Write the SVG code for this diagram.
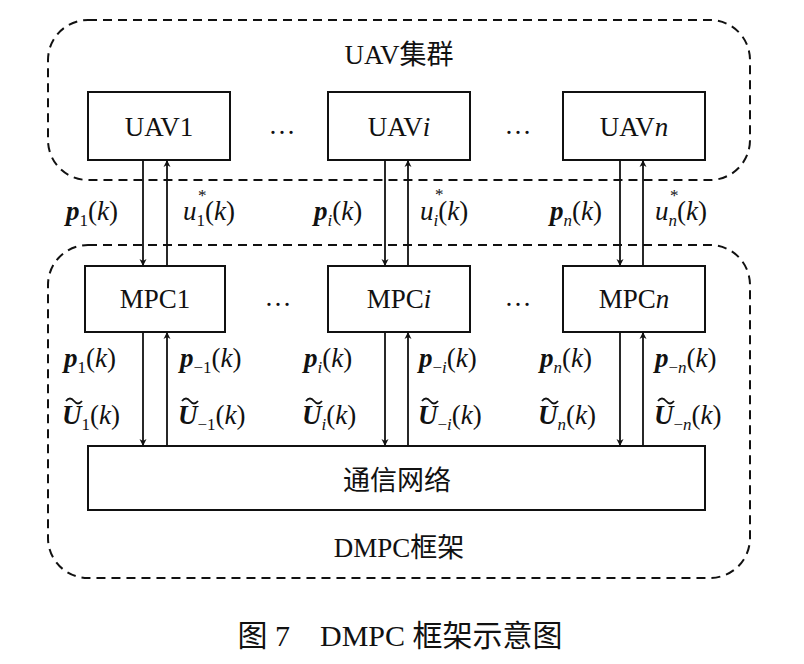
<svg xmlns="http://www.w3.org/2000/svg" width="804" height="664" viewBox="0 0 804 664" font-family="'Liberation Serif', 'DejaVu Serif', serif">
<style>
text{font-family:'Liberation Serif','DejaVu Serif',serif;font-size:27px;fill:#111}
.cjk{font-family:'Liberation Serif','Noto Sans CJK SC',serif}
.c{text-anchor:middle}
.box{fill:none;stroke:#111;stroke-width:2}
.dash{fill:none;stroke:#111;stroke-width:2;stroke-dasharray:9,6}
.ln{stroke:#111;stroke-width:1.8;fill:none}
.b{font-weight:bold;font-style:italic}
.i{font-style:italic}
.s{font-size:17px}
</style>
<defs><marker id="a" viewBox="0 0 10 10" refX="10" refY="5" markerWidth="7" markerHeight="9" orient="auto" markerUnits="userSpaceOnUse"><path d="M0,0L10,5L0,10L3,5z" fill="#111"/></marker></defs>
<rect class="dash" x="48" y="20" width="702" height="160" rx="40"/>
<rect class="dash" x="48" y="245" width="702" height="333" rx="40"/>
<text class="c cjk" x="399" y="64">UAV集群</text>
<text class="c cjk" x="399" y="557">DMPC框架</text>
<g id="uav1"><rect class="box" x="88" y="92" width="142" height="68"/><text class="c" x="159" y="136">UAV1</text></g>
<g id="uavi"><rect class="box" x="328" y="92" width="142" height="68"/><text class="c" x="399" y="136">UAV<tspan class="i">i</tspan></text></g>
<g id="uavn"><rect class="box" x="563" y="92" width="142" height="68"/><text class="c" x="634" y="136">UAV<tspan class="i">n</tspan></text></g>
<text class="c" x="282" y="134">…</text><text class="c" x="518" y="134">…</text>
<g id="mpc1"><rect class="box" x="85" y="266" width="140" height="66"/><text class="c" x="155" y="308">MPC1</text></g>
<g id="mpci"><rect class="box" x="328" y="266" width="142" height="66"/><text class="c" x="399" y="308">MPC<tspan class="i">i</tspan></text></g>
<g id="mpcn"><rect class="box" x="563" y="266" width="142" height="66"/><text class="c" x="634" y="308">MPC<tspan class="i">n</tspan></text></g>
<text class="c" x="278" y="306">…</text><text class="c" x="518" y="306">…</text>
<g id="net"><rect class="box" x="88" y="446" width="617" height="64"/><text class="c cjk" x="397" y="490">通信网络</text></g>
<g id="connectors">
<line class="ln" x1="143" y1="160" x2="143" y2="266" marker-end="url(#a)"/>
<line class="ln" x1="167" y1="266" x2="167" y2="160" marker-end="url(#a)"/>
<line class="ln" x1="385" y1="160" x2="385" y2="266" marker-end="url(#a)"/>
<line class="ln" x1="408" y1="266" x2="408" y2="160" marker-end="url(#a)"/>
<line class="ln" x1="620" y1="160" x2="620" y2="266" marker-end="url(#a)"/>
<line class="ln" x1="643" y1="266" x2="643" y2="160" marker-end="url(#a)"/>
<line class="ln" x1="143" y1="332" x2="143" y2="446" marker-end="url(#a)"/>
<line class="ln" x1="167" y1="446" x2="167" y2="332" marker-end="url(#a)"/>
<line class="ln" x1="385" y1="332" x2="385" y2="446" marker-end="url(#a)"/>
<line class="ln" x1="408" y1="446" x2="408" y2="332" marker-end="url(#a)"/>
<line class="ln" x1="620" y1="332" x2="620" y2="446" marker-end="url(#a)"/>
<line class="ln" x1="643" y1="446" x2="643" y2="332" marker-end="url(#a)"/>
</g>
<g id="labels">
<text x="66" y="220"><tspan class="b">p</tspan><tspan class="s" dy="6">1</tspan><tspan dy="-6">(</tspan><tspan class="i">k</tspan>)</text>
<text x="183" y="220"><tspan class="i">u</tspan><tspan class="s" dy="6">1</tspan><tspan dy="-6">(</tspan><tspan class="i">k</tspan>)</text>
<text class="s" x="198" y="201">*</text>
<text x="314" y="220"><tspan class="b">p</tspan><tspan class="s i" dy="6">i</tspan><tspan dy="-6">(</tspan><tspan class="i">k</tspan>)</text>
<text x="420" y="220"><tspan class="i">u</tspan><tspan class="s i" dy="6">i</tspan><tspan dy="-6">(</tspan><tspan class="i">k</tspan>)</text>
<text class="s" x="435" y="200">*</text>
<text x="550" y="220"><tspan class="b">p</tspan><tspan class="s i" dy="6">n</tspan><tspan dy="-6">(</tspan><tspan class="i">k</tspan>)</text>
<text x="655" y="220"><tspan class="i">u</tspan><tspan class="s i" dy="6">n</tspan><tspan dy="-6">(</tspan><tspan class="i">k</tspan>)</text>
<text class="s" x="670" y="201">*</text>

<text x="64" y="367"><tspan class="b">p</tspan><tspan class="s" dy="6">1</tspan><tspan dy="-6">(</tspan><tspan class="i">k</tspan>)</text>
<text x="180" y="367"><tspan class="b">p</tspan><tspan class="s" dy="6">−1</tspan><tspan dy="-6">(</tspan><tspan class="i">k</tspan>)</text>
<text x="62" y="424"><tspan class="b">U</tspan><tspan class="s" dy="6">1</tspan><tspan dy="-6">(</tspan><tspan class="i">k</tspan>)</text>
<text x="178" y="424"><tspan class="b">U</tspan><tspan class="s" dy="6">−1</tspan><tspan dy="-6">(</tspan><tspan class="i">k</tspan>)</text>
<text x="304" y="367"><tspan class="b">p</tspan><tspan class="s i" dy="6">i</tspan><tspan dy="-6">(</tspan><tspan class="i">k</tspan>)</text>
<text x="419" y="367"><tspan class="b">p</tspan><tspan class="s" dy="6">−<tspan class="i">i</tspan></tspan><tspan dy="-6">(</tspan><tspan class="i">k</tspan>)</text>
<text x="302" y="424"><tspan class="b">U</tspan><tspan class="s i" dy="6">i</tspan><tspan dy="-6">(</tspan><tspan class="i">k</tspan>)</text>
<text x="418" y="424"><tspan class="b">U</tspan><tspan class="s" dy="6">−<tspan class="i">i</tspan></tspan><tspan dy="-6">(</tspan><tspan class="i">k</tspan>)</text>
<text x="540" y="367"><tspan class="b">p</tspan><tspan class="s i" dy="6">n</tspan><tspan dy="-6">(</tspan><tspan class="i">k</tspan>)</text>
<text x="655" y="367"><tspan class="b">p</tspan><tspan class="s" dy="6">−<tspan class="i">n</tspan></tspan><tspan dy="-6">(</tspan><tspan class="i">k</tspan>)</text>
<text x="538" y="424"><tspan class="b">U</tspan><tspan class="s i" dy="6">n</tspan><tspan dy="-6">(</tspan><tspan class="i">k</tspan>)</text>
<text x="654" y="424"><tspan class="b">U</tspan><tspan class="s" dy="6">−<tspan class="i">n</tspan></tspan><tspan dy="-6">(</tspan><tspan class="i">k</tspan>)</text>
<g class="ln" stroke-width="1.5">
<path d="M66,401q4,-5 8,0t8,0"/><path d="M182,401q4,-5 8,0t8,0"/>
<path d="M306,401q4,-5 8,0t8,0"/><path d="M422,401q4,-5 8,0t8,0"/>
<path d="M542,401q4,-5 8,0t8,0"/><path d="M658,401q4,-5 8,0t8,0"/>
</g>
</g>
<text class="c cjk" x="400" y="646" style="font-size:30px">图 7　DMPC 框架示意图</text>
</svg>
